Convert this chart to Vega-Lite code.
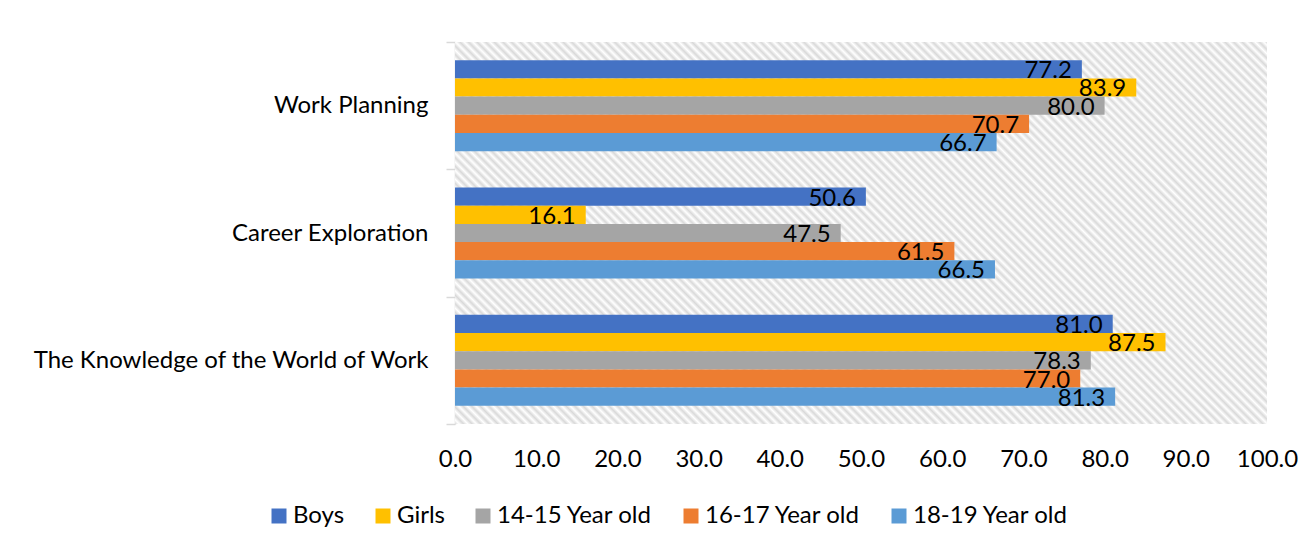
{
  "$schema": "https://vega.github.io/schema/vega-lite/v6.json",
  "width": 812,
  "height": 382,
  "autosize": {"type": "none"},
  "padding": {"left": 455, "top": 42, "right": 47, "bottom": 123},
  "background": "white",
  "config": {"view": {"stroke": null}, "font": "Lato"},
  "data": {
    "values": [
      {"category": "Work Planning", "series": "Boys", "value": 77.2},
      {"category": "Work Planning", "series": "Girls", "value": 83.9},
      {"category": "Work Planning", "series": "14-15 Year old", "value": 80.0},
      {"category": "Work Planning", "series": "16-17 Year old", "value": 70.7},
      {"category": "Work Planning", "series": "18-19 Year old", "value": 66.7},
      {"category": "Career Exploration", "series": "Boys", "value": 50.6},
      {"category": "Career Exploration", "series": "Girls", "value": 16.1},
      {"category": "Career Exploration", "series": "14-15 Year old", "value": 47.5},
      {"category": "Career Exploration", "series": "16-17 Year old", "value": 61.5},
      {"category": "Career Exploration", "series": "18-19 Year old", "value": 66.5},
      {"category": "The Knowledge of the World of Work", "series": "Boys", "value": 81.0},
      {"category": "The Knowledge of the World of Work", "series": "Girls", "value": 87.5},
      {"category": "The Knowledge of the World of Work", "series": "14-15 Year old", "value": 78.3},
      {"category": "The Knowledge of the World of Work", "series": "16-17 Year old", "value": 77.0},
      {"category": "The Knowledge of the World of Work", "series": "18-19 Year old", "value": 81.3}
    ]
  },
  "layer": [
    {
      "data": {"values": [{"part": "background"}]},
      "mark": {
        "type": "rect",
        "fill": {
          "gradient": "linear",
          "x1": 0, "y1": 1, "x2": 1.204, "y2": 0.4336,
          "stops": [
            {"offset":0,"color":"#d9d9d9"},{"offset":0.0036,"color":"#fff"},{"offset":0.0072,"color":"#d9d9d9"},{"offset":0.0108,"color":"#fff"},{"offset":0.0144,"color":"#d9d9d9"},{"offset":0.018,"color":"#fff"},{"offset":0.0216,"color":"#d9d9d9"},{"offset":0.0252,"color":"#fff"},{"offset":0.0288,"color":"#d9d9d9"},{"offset":0.0324,"color":"#fff"},
            {"offset":0.036,"color":"#d9d9d9"},{"offset":0.0396,"color":"#fff"},{"offset":0.0432,"color":"#d9d9d9"},{"offset":0.0468,"color":"#fff"},{"offset":0.0504,"color":"#d9d9d9"},{"offset":0.054,"color":"#fff"},{"offset":0.0576,"color":"#d9d9d9"},{"offset":0.0612,"color":"#fff"},{"offset":0.0648,"color":"#d9d9d9"},{"offset":0.0684,"color":"#fff"},
            {"offset":0.072,"color":"#d9d9d9"},{"offset":0.0756,"color":"#fff"},{"offset":0.0792,"color":"#d9d9d9"},{"offset":0.0828,"color":"#fff"},{"offset":0.0864,"color":"#d9d9d9"},{"offset":0.09,"color":"#fff"},{"offset":0.0936,"color":"#d9d9d9"},{"offset":0.0972,"color":"#fff"},{"offset":0.1008,"color":"#d9d9d9"},{"offset":0.1044,"color":"#fff"},
            {"offset":0.108,"color":"#d9d9d9"},{"offset":0.1116,"color":"#fff"},{"offset":0.1152,"color":"#d9d9d9"},{"offset":0.1188,"color":"#fff"},{"offset":0.1224,"color":"#d9d9d9"},{"offset":0.126,"color":"#fff"},{"offset":0.1296,"color":"#d9d9d9"},{"offset":0.1332,"color":"#fff"},{"offset":0.1368,"color":"#d9d9d9"},{"offset":0.1404,"color":"#fff"},
            {"offset":0.144,"color":"#d9d9d9"},{"offset":0.1476,"color":"#fff"},{"offset":0.1512,"color":"#d9d9d9"},{"offset":0.1548,"color":"#fff"},{"offset":0.1584,"color":"#d9d9d9"},{"offset":0.162,"color":"#fff"},{"offset":0.1656,"color":"#d9d9d9"},{"offset":0.1692,"color":"#fff"},{"offset":0.1728,"color":"#d9d9d9"},{"offset":0.1764,"color":"#fff"},
            {"offset":0.18,"color":"#d9d9d9"},{"offset":0.1836,"color":"#fff"},{"offset":0.1872,"color":"#d9d9d9"},{"offset":0.1908,"color":"#fff"},{"offset":0.1944,"color":"#d9d9d9"},{"offset":0.198,"color":"#fff"},{"offset":0.2016,"color":"#d9d9d9"},{"offset":0.2052,"color":"#fff"},{"offset":0.2088,"color":"#d9d9d9"},{"offset":0.2124,"color":"#fff"},
            {"offset":0.216,"color":"#d9d9d9"},{"offset":0.2196,"color":"#fff"},{"offset":0.2232,"color":"#d9d9d9"},{"offset":0.2268,"color":"#fff"},{"offset":0.2304,"color":"#d9d9d9"},{"offset":0.234,"color":"#fff"},{"offset":0.2376,"color":"#d9d9d9"},{"offset":0.2412,"color":"#fff"},{"offset":0.2448,"color":"#d9d9d9"},{"offset":0.2484,"color":"#fff"},
            {"offset":0.252,"color":"#d9d9d9"},{"offset":0.2556,"color":"#fff"},{"offset":0.2592,"color":"#d9d9d9"},{"offset":0.2628,"color":"#fff"},{"offset":0.2664,"color":"#d9d9d9"},{"offset":0.27,"color":"#fff"},{"offset":0.2736,"color":"#d9d9d9"},{"offset":0.2772,"color":"#fff"},{"offset":0.2808,"color":"#d9d9d9"},{"offset":0.2844,"color":"#fff"},
            {"offset":0.288,"color":"#d9d9d9"},{"offset":0.2916,"color":"#fff"},{"offset":0.2952,"color":"#d9d9d9"},{"offset":0.2988,"color":"#fff"},{"offset":0.3024,"color":"#d9d9d9"},{"offset":0.306,"color":"#fff"},{"offset":0.3096,"color":"#d9d9d9"},{"offset":0.3132,"color":"#fff"},{"offset":0.3168,"color":"#d9d9d9"},{"offset":0.3204,"color":"#fff"},
            {"offset":0.324,"color":"#d9d9d9"},{"offset":0.3276,"color":"#fff"},{"offset":0.3312,"color":"#d9d9d9"},{"offset":0.3348,"color":"#fff"},{"offset":0.3384,"color":"#d9d9d9"},{"offset":0.342,"color":"#fff"},{"offset":0.3456,"color":"#d9d9d9"},{"offset":0.3492,"color":"#fff"},{"offset":0.3528,"color":"#d9d9d9"},{"offset":0.3564,"color":"#fff"},
            {"offset":0.36,"color":"#d9d9d9"},{"offset":0.3636,"color":"#fff"},{"offset":0.3672,"color":"#d9d9d9"},{"offset":0.3708,"color":"#fff"},{"offset":0.3744,"color":"#d9d9d9"},{"offset":0.378,"color":"#fff"},{"offset":0.3816,"color":"#d9d9d9"},{"offset":0.3852,"color":"#fff"},{"offset":0.3888,"color":"#d9d9d9"},{"offset":0.3924,"color":"#fff"},
            {"offset":0.396,"color":"#d9d9d9"},{"offset":0.3996,"color":"#fff"},{"offset":0.4032,"color":"#d9d9d9"},{"offset":0.4068,"color":"#fff"},{"offset":0.4104,"color":"#d9d9d9"},{"offset":0.414,"color":"#fff"},{"offset":0.4176,"color":"#d9d9d9"},{"offset":0.4212,"color":"#fff"},{"offset":0.4248,"color":"#d9d9d9"},{"offset":0.4284,"color":"#fff"},
            {"offset":0.432,"color":"#d9d9d9"},{"offset":0.4356,"color":"#fff"},{"offset":0.4392,"color":"#d9d9d9"},{"offset":0.4428,"color":"#fff"},{"offset":0.4464,"color":"#d9d9d9"},{"offset":0.45,"color":"#fff"},{"offset":0.4536,"color":"#d9d9d9"},{"offset":0.4572,"color":"#fff"},{"offset":0.4608,"color":"#d9d9d9"},{"offset":0.4644,"color":"#fff"},
            {"offset":0.468,"color":"#d9d9d9"},{"offset":0.4716,"color":"#fff"},{"offset":0.4752,"color":"#d9d9d9"},{"offset":0.4788,"color":"#fff"},{"offset":0.4824,"color":"#d9d9d9"},{"offset":0.486,"color":"#fff"},{"offset":0.4896,"color":"#d9d9d9"},{"offset":0.4932,"color":"#fff"},{"offset":0.4968,"color":"#d9d9d9"},{"offset":0.5004,"color":"#fff"},
            {"offset":0.504,"color":"#d9d9d9"},{"offset":0.5076,"color":"#fff"},{"offset":0.5112,"color":"#d9d9d9"},{"offset":0.5148,"color":"#fff"},{"offset":0.5184,"color":"#d9d9d9"},{"offset":0.522,"color":"#fff"},{"offset":0.5256,"color":"#d9d9d9"},{"offset":0.5292,"color":"#fff"},{"offset":0.5328,"color":"#d9d9d9"},{"offset":0.5364,"color":"#fff"},
            {"offset":0.54,"color":"#d9d9d9"},{"offset":0.5436,"color":"#fff"},{"offset":0.5472,"color":"#d9d9d9"},{"offset":0.5508,"color":"#fff"},{"offset":0.5544,"color":"#d9d9d9"},{"offset":0.558,"color":"#fff"},{"offset":0.5616,"color":"#d9d9d9"},{"offset":0.5652,"color":"#fff"},{"offset":0.5688,"color":"#d9d9d9"},{"offset":0.5724,"color":"#fff"},
            {"offset":0.576,"color":"#d9d9d9"},{"offset":0.5796,"color":"#fff"},{"offset":0.5832,"color":"#d9d9d9"},{"offset":0.5868,"color":"#fff"},{"offset":0.5904,"color":"#d9d9d9"},{"offset":0.594,"color":"#fff"},{"offset":0.5976,"color":"#d9d9d9"},{"offset":0.6012,"color":"#fff"},{"offset":0.6048,"color":"#d9d9d9"},{"offset":0.6084,"color":"#fff"},
            {"offset":0.612,"color":"#d9d9d9"},{"offset":0.6156,"color":"#fff"},{"offset":0.6192,"color":"#d9d9d9"},{"offset":0.6228,"color":"#fff"},{"offset":0.6264,"color":"#d9d9d9"},{"offset":0.63,"color":"#fff"},{"offset":0.6336,"color":"#d9d9d9"},{"offset":0.6372,"color":"#fff"},{"offset":0.6408,"color":"#d9d9d9"},{"offset":0.6444,"color":"#fff"},
            {"offset":0.648,"color":"#d9d9d9"},{"offset":0.6516,"color":"#fff"},{"offset":0.6552,"color":"#d9d9d9"},{"offset":0.6588,"color":"#fff"},{"offset":0.6624,"color":"#d9d9d9"},{"offset":0.666,"color":"#fff"},{"offset":0.6696,"color":"#d9d9d9"},{"offset":0.6732,"color":"#fff"},{"offset":0.6768,"color":"#d9d9d9"},{"offset":0.6804,"color":"#fff"},
            {"offset":0.684,"color":"#d9d9d9"},{"offset":0.6876,"color":"#fff"},{"offset":0.6912,"color":"#d9d9d9"},{"offset":0.6948,"color":"#fff"},{"offset":0.6984,"color":"#d9d9d9"},{"offset":0.702,"color":"#fff"},{"offset":0.7056,"color":"#d9d9d9"},{"offset":0.7092,"color":"#fff"},{"offset":0.7128,"color":"#d9d9d9"},{"offset":0.7164,"color":"#fff"},
            {"offset":0.72,"color":"#d9d9d9"},{"offset":0.7236,"color":"#fff"},{"offset":0.7272,"color":"#d9d9d9"},{"offset":0.7308,"color":"#fff"},{"offset":0.7344,"color":"#d9d9d9"},{"offset":0.738,"color":"#fff"},{"offset":0.7416,"color":"#d9d9d9"},{"offset":0.7452,"color":"#fff"},{"offset":0.7488,"color":"#d9d9d9"},{"offset":0.7524,"color":"#fff"},
            {"offset":0.756,"color":"#d9d9d9"},{"offset":0.7596,"color":"#fff"},{"offset":0.7632,"color":"#d9d9d9"},{"offset":0.7668,"color":"#fff"},{"offset":0.7704,"color":"#d9d9d9"},{"offset":0.774,"color":"#fff"},{"offset":0.7776,"color":"#d9d9d9"},{"offset":0.7812,"color":"#fff"},{"offset":0.7848,"color":"#d9d9d9"},{"offset":0.7884,"color":"#fff"},
            {"offset":0.792,"color":"#d9d9d9"},{"offset":0.7956,"color":"#fff"},{"offset":0.7992,"color":"#d9d9d9"},{"offset":0.8028,"color":"#fff"},{"offset":0.8064,"color":"#d9d9d9"},{"offset":0.81,"color":"#fff"},{"offset":0.8136,"color":"#d9d9d9"},{"offset":0.8172,"color":"#fff"},{"offset":0.8208,"color":"#d9d9d9"},{"offset":0.8244,"color":"#fff"},
            {"offset":0.828,"color":"#d9d9d9"},{"offset":0.8316,"color":"#fff"},{"offset":0.8352,"color":"#d9d9d9"},{"offset":0.8388,"color":"#fff"},{"offset":0.8424,"color":"#d9d9d9"},{"offset":0.846,"color":"#fff"},{"offset":0.8496,"color":"#d9d9d9"},{"offset":0.8532,"color":"#fff"},{"offset":0.8568,"color":"#d9d9d9"},{"offset":0.8604,"color":"#fff"},
            {"offset":0.864,"color":"#d9d9d9"},{"offset":0.8676,"color":"#fff"},{"offset":0.8712,"color":"#d9d9d9"},{"offset":0.8748,"color":"#fff"},{"offset":0.8784,"color":"#d9d9d9"},{"offset":0.882,"color":"#fff"},{"offset":0.8856,"color":"#d9d9d9"},{"offset":0.8892,"color":"#fff"},{"offset":0.8928,"color":"#d9d9d9"},{"offset":0.8964,"color":"#fff"},
            {"offset":0.9,"color":"#d9d9d9"},{"offset":0.9036,"color":"#fff"},{"offset":0.9072,"color":"#d9d9d9"},{"offset":0.9108,"color":"#fff"},{"offset":0.9144,"color":"#d9d9d9"},{"offset":0.918,"color":"#fff"},{"offset":0.9216,"color":"#d9d9d9"},{"offset":0.9252,"color":"#fff"},{"offset":0.9288,"color":"#d9d9d9"},{"offset":0.9324,"color":"#fff"},
            {"offset":0.936,"color":"#d9d9d9"},{"offset":0.9396,"color":"#fff"},{"offset":0.9432,"color":"#d9d9d9"},{"offset":0.9468,"color":"#fff"},{"offset":0.9504,"color":"#d9d9d9"},{"offset":0.954,"color":"#fff"},{"offset":0.9576,"color":"#d9d9d9"},{"offset":0.9612,"color":"#fff"},{"offset":0.9648,"color":"#d9d9d9"},{"offset":0.9684,"color":"#fff"},
            {"offset":0.972,"color":"#d9d9d9"},{"offset":0.9756,"color":"#fff"},{"offset":0.9792,"color":"#d9d9d9"},{"offset":0.9828,"color":"#fff"},{"offset":0.9864,"color":"#d9d9d9"},{"offset":0.99,"color":"#fff"},{"offset":0.9936,"color":"#d9d9d9"},{"offset":0.9972,"color":"#fff"},{"offset":1,"color":"#d9d9d9"}
          ]
        }
      },
      "encoding": {
        "x": {"datum": 0, "type": "quantitative"},
        "x2": {"datum": 100}
      }
    },
    {
      "mark": {"type": "bar"},
      "encoding": {
        "y": {
          "field": "category", "type": "nominal",
          "sort": ["Work Planning", "Career Exploration", "The Knowledge of the World of Work"],
          "scale": {"paddingInner": 0, "paddingOuter": 0},
          "axis": {
            "title": null, "tickBand": "extent", "domainColor": "#d9d9d9", "domainWidth": 1.5,
            "tickColor": "#d9d9d9", "tickWidth": 1.5, "tickSize": 9, "labelFontSize": 24,
            "labelColor": "#000000", "labelPadding": 18, "labelLimit": 600, "labelFont": "Lato"
          }
        },
        "yOffset": {
          "field": "series", "type": "nominal",
          "sort": ["Boys", "Girls", "14-15 Year old", "16-17 Year old", "18-19 Year old"],
          "scale": {"paddingInner": 0, "paddingOuter": 1.24}
        },
        "x": {
          "field": "value", "type": "quantitative",
          "scale": {"domain": [0, 100], "nice": false},
          "axis": {
            "title": null, "values": [0, 10, 20, 30, 40, 50, 60, 70, 80, 90, 100], "format": ".1f",
            "grid": false, "domain": false, "ticks": false, "tickSize": 0, "labelFontSize": 24,
            "labelColor": "#000000", "labelPadding": 23, "labelFlush": false, "labelFont": "Lato"
          }
        },
        "color": {
          "field": "series", "type": "nominal",
          "scale": {
            "domain": ["Boys", "Girls", "14-15 Year old", "16-17 Year old", "18-19 Year old"],
            "range": ["#4472C4", "#FFC000", "#A5A5A5", "#ED7D31", "#5B9BD5"]
          },
          "legend": {
            "title": null, "orient": "none", "legendX": -188, "legendY": 462, "direction": "horizontal",
            "columns": 5, "symbolType": "square", "symbolSize": 225, "symbolStrokeWidth": 0,
            "labelFontSize": 24, "labelFont": "Lato", "labelColor": "#000000", "labelOffset": 2,
            "columnPadding": 26, "padding": 0, "labelLimit": 400
          }
        }
      }
    },
    {
      "mark": {"type": "text", "align": "right", "baseline": "middle", "dx": -10, "dy": 2, "fontSize": 24, "font": "Lato", "color": "#000000"},
      "encoding": {
        "y": {"field": "category", "type": "nominal", "sort": ["Work Planning", "Career Exploration", "The Knowledge of the World of Work"]},
        "yOffset": {"field": "series", "type": "nominal", "sort": ["Boys", "Girls", "14-15 Year old", "16-17 Year old", "18-19 Year old"]},
        "x": {"field": "value", "type": "quantitative"},
        "text": {"field": "value", "type": "quantitative", "format": ".1f"}
      }
    }
  ]
}
